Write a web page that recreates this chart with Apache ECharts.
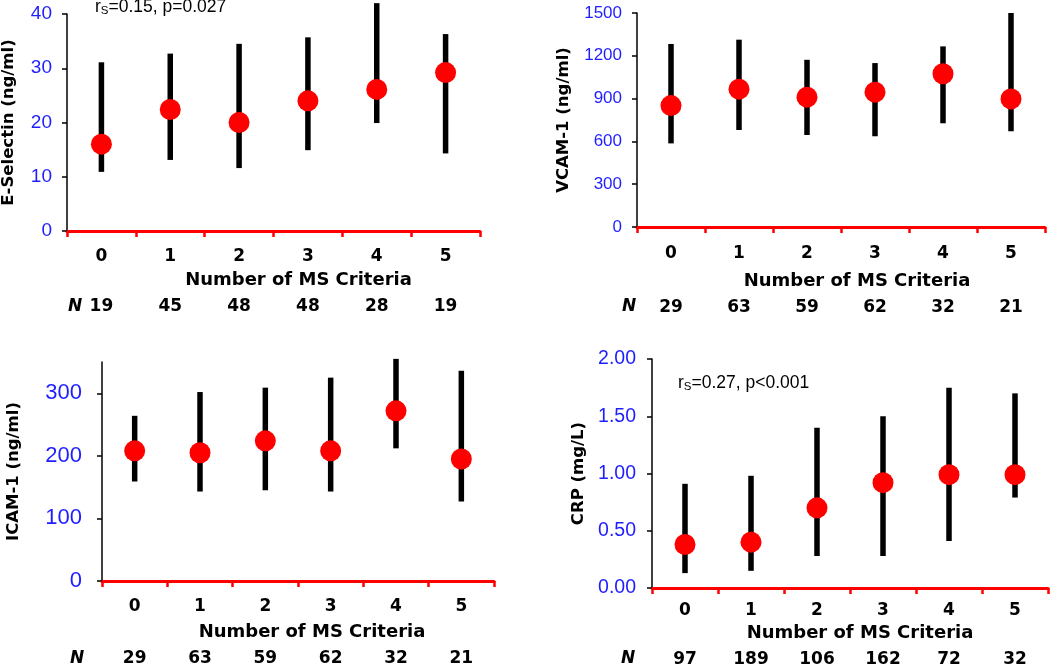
<!DOCTYPE html>
<html>
<head>
<meta charset="utf-8">
<title>Number of MS Criteria</title>
<script src="https://cdn.jsdelivr.net/npm/echarts@6/dist/echarts.min.js"></script>
<style>
  html, body { margin: 0; padding: 0; background: #fff; }
  #main { width: 1050px; height: 666px; }
</style>
</head>
<body>
<div id="main"></div>
<script>
// 数据
var categories = ['0', '1', '2', '3', '4', '5'];

var eSelMean = [16.0, 22.4, 20.0, 24.0, 26.1, 29.2];
var eSelLow = [10.9, 13.1, 11.6, 14.9, 19.9, 14.3];
var eSelHigh = [31.1, 32.7, 34.5, 35.7, 42.0, 36.3];
var eSelN = ['19', '45', '48', '48', '28', '19'];
var eSelTicks = [0, 10, 20, 30, 40];

var vcamMean = [851, 966, 910, 945, 1074, 898];
var vcamLow = [586, 680, 645, 636, 727, 671];
var vcamHigh = [1283, 1313, 1172, 1149, 1266, 1500];
var vcamN = ['29', '63', '59', '62', '32', '21'];
var vcamTicks = [0, 300, 600, 900, 1200, 1500];

var icamMean = [208, 205, 224, 208, 272, 195];
var icamLow = [159, 143, 145, 143, 212, 127];
var icamHigh = [264, 302, 309, 325, 355, 336];
var icamN = ['29', '63', '59', '62', '32', '21'];
var icamTicks = [0, 100, 200, 300];

var crpMean = [0.38, 0.40, 0.70, 0.92, 0.99, 0.99];
var crpLow = [0.13, 0.15, 0.28, 0.28, 0.41, 0.79];
var crpHigh = [0.91, 0.98, 1.40, 1.50, 1.75, 1.70];
var crpN = ['97', '189', '106', '162', '72', '32'];
var crpTicks = [0, 0.5, 1, 1.5, 2];

var boldFont = 'DejaVu Sans';
var plainFont = 'Liberation Sans';
var blue = '#1e1eff';
var red = '#ff0000';

// 四个面板
var panels = [
  {
    grid: { left: 67, top: 14, width: 413, height: 217 },
    yName: 'E-Selectin (ng/ml)', max: 40, interval: 10, ticks: eSelTicks,
    mean: eSelMean, low: eSelLow, high: eSelHigh, n: eSelN,
    tickSize: 19, labelMargin: 15, yNameGap: 50,
    catMargin: 17, xNameGap: 40, xNamePad: 50, nOffset: 59,
    digits: 0
  },
  {
    grid: { left: 637, top: 13, width: 408, height: 214 },
    yName: 'VCAM-1 (ng/ml)', max: 1500, interval: 300, ticks: vcamTicks,
    mean: vcamMean, low: vcamLow, high: vcamHigh, n: vcamN,
    tickSize: 17, labelMargin: 15, yNameGap: 65,
    catMargin: 18, xNameGap: 45, xNamePad: 32, nOffset: 64,
    digits: 0
  },
  {
    grid: { left: 102, top: 362, width: 392, height: 219 },
    yName: 'ICAM-1 (ng/ml)', max: 350, interval: 100, ticks: icamTicks,
    mean: icamMean, low: icamLow, high: icamHigh, n: icamN,
    tickSize: 22, labelMargin: 20, yNameGap: 80,
    catMargin: 17, xNameGap: 42, xNamePad: 28, nOffset: 61,
    digits: 0
  },
  {
    grid: { left: 652, top: 359, width: 396, height: 229 },
    yName: 'CRP (mg/L)', max: 2, interval: 0.5, ticks: crpTicks,
    mean: crpMean, low: crpLow, high: crpHigh, n: crpN,
    tickSize: 19.5, labelMargin: 16, yNameGap: 65,
    catMargin: 14, xNameGap: 36, xNamePad: 20, nOffset: 55,
    digits: 2
  }
];

// 误差线
function renderBar(params, api) {
  var top = api.coord([api.value(0), api.value(2)]);
  var bottom = api.coord([api.value(0), api.value(1)]);
  return {
    type: 'line',
    shape: { x1: top[0], y1: top[1], x2: bottom[0], y2: bottom[1] },
    style: { stroke: '#000', lineWidth: 5.5 }
  };
}

var grids = [], xAxes = [], yAxes = [], series = [];

panels.forEach(function (p, k) {
  var g = p.grid;
  g.outerBoundsMode = 'none';
  grids.push(g);

  // 类别轴
  xAxes.push({
    type: 'category',
    gridIndex: k,
    data: categories,
    name: 'Number of MS Criteria',
    nameLocation: 'middle',
    nameGap: p.xNameGap,
    nameTextStyle: { fontFamily: boldFont, fontWeight: 'bold', fontSize: 18, color: '#000', padding: [0, 0, 0, p.xNamePad] },
    axisLine: { lineStyle: { color: red, width: 3 } },
    axisTick: { show: true, length: 6, lineStyle: { color: red, width: 2.5 } },
    axisLabel: { fontFamily: boldFont, fontWeight: 'bold', fontSize: 17, color: '#000', margin: p.catMargin },
    splitLine: { show: false }
  });
  // N 行
  xAxes.push({
    type: 'category',
    gridIndex: k,
    data: p.n,
    position: 'bottom',
    offset: p.nOffset,
    axisLine: { show: false },
    axisTick: { show: false },
    axisLabel: { fontFamily: boldFont, fontWeight: 'bold', fontSize: 17, color: '#000', margin: 8 },
    splitLine: { show: false }
  });

  yAxes.push({
    type: 'value',
    gridIndex: k,
    min: 0,
    max: p.max,
    interval: p.interval,
    name: p.yName,
    nameLocation: 'middle',
    nameGap: p.yNameGap,
    nameTextStyle: { fontFamily: boldFont, fontWeight: 'bold', fontSize: 16.5, color: '#000' },
    axisLine: { show: true, lineStyle: { color: '#000', width: 1.5 } },
    axisTick: { show: true, length: 5, lineStyle: { color: '#000', width: 1.5 }, customValues: p.ticks },
    axisLabel: {
      fontFamily: plainFont, fontSize: p.tickSize, color: blue, margin: p.labelMargin,
      customValues: p.ticks,
      formatter: function (v) { return Number(v).toFixed(p.digits); }
    },
    splitLine: { show: false }
  });

  series.push({
    type: 'custom',
    xAxisIndex: k * 2,
    yAxisIndex: k,
    renderItem: renderBar,
    clip: false,
    encode: { x: 0, y: [1, 2] },
    data: categories.map(function (c, i) { return [i, p.low[i], p.high[i]]; }),
    z: 2
  });
  series.push({
    type: 'scatter',
    xAxisIndex: k * 2,
    yAxisIndex: k,
    symbol: 'circle',
    symbolSize: 21,
    itemStyle: { color: red, opacity: 1 },
    data: categories.map(function (c, i) { return [i, p.mean[i]]; }),
    z: 3
  });
});

function nLabel(x, y) {
  return { type: 'text', x: x, y: y, style: { text: 'N', font: 'italic bold 17px "DejaVu Sans"', fill: '#000' } };
}

function statText(x, y, rest) {
  return {
    type: 'text', x: x, y: y,
    style: {
      text: '{r|r}{s|S}{t|' + rest + '}',
      rich: {
        r: { fontFamily: plainFont, fontSize: 17.5, lineHeight: 20, verticalAlign: 'middle', fill: '#000' },
        s: { fontFamily: plainFont, fontSize: 11.5, lineHeight: 12, verticalAlign: 'bottom', fill: '#000' },
        t: { fontFamily: plainFont, fontSize: 17.5, lineHeight: 20, verticalAlign: 'middle', fill: '#000' }
      }
    }
  };
}

var chart = echarts.init(document.getElementById('main'));
chart.setOption({
  backgroundColor: '#fff',
  animation: false,
  grid: grids,
  xAxis: xAxes,
  yAxis: yAxes,
  series: series,
  graphic: [
    nLabel(68, 298),
    nLabel(622, 298),
    nLabel(70, 650),
    nLabel(621, 650),
    statText(95, -3, '=0.15, p=0.027'),
    statText(678, 373, '=0.27, p<0.001')
  ]
});
</script>
</body>
</html>
